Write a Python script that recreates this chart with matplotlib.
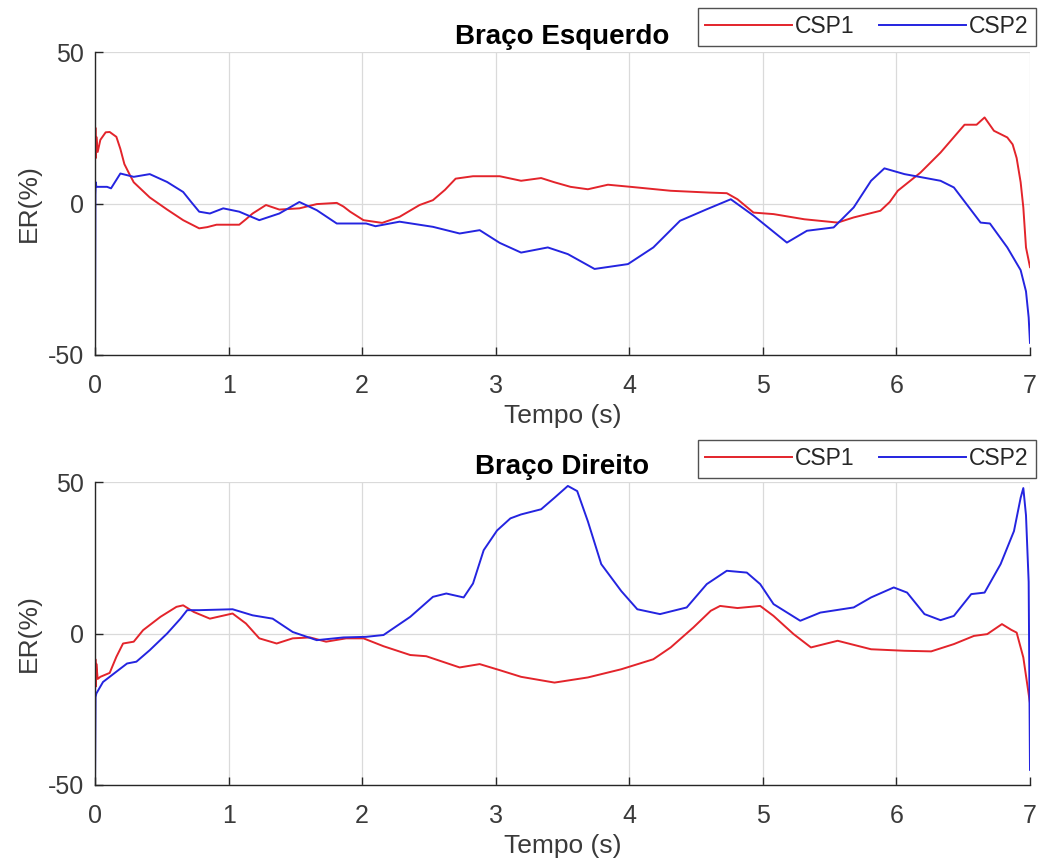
import matplotlib
matplotlib.use("Agg")
import matplotlib.pyplot as plt

plt.rcParams['font.family'] = ['Liberation Sans', 'DejaVu Sans']
plt.rcParams['axes.unicode_minus'] = False

# ---- Braço Esquerdo ----
left_t_csp1 = [0.0, 0.003, 0.006, 0.01, 0.02, 0.04, 0.08, 0.11, 0.16, 0.19, 0.22, 0.26, 0.29, 0.35,
               0.41, 0.54, 0.66, 0.78, 0.84, 0.91, 1.08, 1.13, 1.18, 1.28, 1.38, 1.53, 1.66,
               1.81, 1.86, 1.91, 2.01, 2.15, 2.28, 2.43, 2.53, 2.62, 2.70, 2.83, 3.03,
               3.19, 3.34, 3.44, 3.56, 3.69, 3.84, 4.01, 4.31, 4.60, 4.73, 4.81, 4.93,
               5.08, 5.31, 5.56, 5.68, 5.88, 5.95, 6.01, 6.18, 6.33, 6.51, 6.60, 6.66,
               6.73, 6.83, 6.87, 6.90, 6.93, 6.95, 6.97, 7.0]
left_csp1 = [14, 25, 15, 22, 17, 21, 23.5, 23.6, 22, 18, 13, 9.5, 7, 4.5,
             2, -2, -5.5, -8.2, -7.8, -7, -7, -5.2, -3.3, -0.5, -2, -1.6, -0.2,
             0.2, -1, -2.7, -5.5, -6.4, -4.4, -0.5, 1.1, 4.5, 8.2, 9, 9,
             7.5, 8.4, 7, 5.5, 4.7, 6.2, 5.5, 4.2, 3.6, 3.4, 1.4, -3,
             -3.5, -5.2, -6.3, -4.6, -2.4, 0.5, 4.2, 10.2, 16.8, 26, 26, 28.4,
             24, 21.8, 19.5, 15, 7, -1.3, -14.5, -21]

left_t_csp2 = [0.0, 0.003, 0.006, 0.01, 0.09, 0.12, 0.19, 0.29, 0.41, 0.54, 0.66, 0.72, 0.78,
               0.86, 0.96, 1.08, 1.23, 1.38, 1.53, 1.66, 1.81, 2.03, 2.10, 2.28, 2.53,
               2.73, 2.88, 3.03, 3.19, 3.39, 3.54, 3.74, 3.99, 4.18, 4.38, 4.58, 4.76,
               4.93, 5.18, 5.33, 5.53, 5.68, 5.81, 5.91, 6.06, 6.33, 6.43, 6.63, 6.70,
               6.83, 6.93, 6.97, 6.99, 7.0]
left_csp2 = [-50, 3, 7, 5.5, 5.5, 5, 9.9, 8.8, 9.7, 7.1, 3.8, 0.5, -2.7,
             -3.3, -1.6, -2.7, -5.5, -3.3, 0.5, -2.2, -6.6, -6.6, -7.5, -6, -7.7,
             -9.9, -8.8, -13, -16.2, -14.5, -16.7, -21.6, -20, -14.5, -5.7, -1.9, 1.4,
             -4, -12.9, -9, -7.9, -1.3, 7.5, 11.6, 9.7, 7.5, 5.3, -6.3, -6.6,
             -14.5, -22, -29, -37.6, -46]

# ---- Braço Direito ----
right_t_csp1 = [0.0, 0.003, 0.006, 0.01, 0.02, 0.04, 0.11, 0.16, 0.21, 0.29, 0.36, 0.49, 0.61,
                0.66, 0.74, 0.86, 1.03, 1.13, 1.23, 1.36, 1.48, 1.61, 1.73, 1.88, 2.01,
                2.16, 2.36, 2.48, 2.73, 2.88, 3.03, 3.19, 3.44, 3.69, 3.94, 4.18, 4.31,
                4.48, 4.61, 4.68, 4.81, 4.98, 5.08, 5.23, 5.36, 5.56, 5.81, 6.06, 6.26,
                6.43, 6.58, 6.68, 6.79, 6.86, 6.90, 6.95, 7.0]
right_csp1 = [-15, -8.5, -17.5, -10, -15, -14.3, -13, -7.7, -3.3, -2.7, 1.1, 5.5, 8.8,
              9.3, 7.1, 4.9, 6.6, 3.3, -1.6, -3.3, -1.6, -1.3, -2.7, -1.6, -1.6,
              -4.2, -7.1, -7.5, -11.2, -10.1, -12.1, -14.3, -16.2, -14.5, -11.8, -8.5, -4.6,
              2, 7.5, 9.1, 8.4, 9.1, 5.8, -0.2, -4.6, -2.4, -5.2, -5.7, -5.9,
              -3.5, -0.8, -0.2, 3.1, 1.2, 0.3, -7.9, -23]

right_t_csp2 = [0.0, 0.004, 0.01, 0.06, 0.16, 0.24, 0.31, 0.41, 0.54, 0.64, 0.69, 0.78, 1.03,
                1.18, 1.33, 1.48, 1.66, 1.86, 2.03, 2.16, 2.36, 2.53, 2.63, 2.76, 2.83,
                2.91, 3.01, 3.11, 3.19, 3.34, 3.44, 3.54, 3.61, 3.69, 3.79, 3.94, 4.06,
                4.23, 4.43, 4.58, 4.73, 4.88, 4.98, 5.08, 5.28, 5.43, 5.68, 5.81, 5.98,
                6.08, 6.21, 6.33, 6.43, 6.56, 6.66, 6.78, 6.88, 6.93, 6.95, 6.97, 6.99, 7.0]
right_csp2 = [-50, -21, -19.8, -16, -12.6, -9.9, -9.3, -5.5, 0, 4.9, 7.7, 7.7, 8,
              6, 4.9, 0.5, -2.2, -1.3, -1.1, -0.5, 5.5, 12.1, 13.2, 11.9, 16.5,
              27.5, 34, 38, 39.3, 41, 44.8, 48.7, 47, 37, 22.9, 14, 8,
              6.4, 8.6, 16.3, 20.7, 20.1, 16.3, 9.7, 4.2, 6.9, 8.6, 11.9, 15.2,
              13.5, 6.4, 4.4, 5.8, 13, 13.5, 22.9, 33.8, 44.8, 48, 39, 17, -45]

panel_titles = ['Braço Esquerdo', 'Braço Direito']
series_names = ['CSP1', 'CSP2']
x_ticks = [0, 1, 2, 3, 4, 5, 6, 7]
y_ticks = [-50, 0, 50]

RED = '#e3242b'
BLUE = '#2424e0'
DARK = '#262626'
TICK_GRAY = '#3a3a3a'

fig = plt.figure(figsize=(10.43, 8.65), dpi=100)
ax_top = fig.add_axes([95 / 1043, 1 - 355 / 865, 935 / 1043, 303 / 865])
ax_bot = fig.add_axes([95 / 1043, 1 - 785 / 865, 935 / 1043, 303 / 865])

panels = [
    (ax_top, (left_t_csp1, left_csp1), (left_t_csp2, left_csp2), 1.02),
    (ax_bot, (right_t_csp1, right_csp1), (right_t_csp2, right_csp2), 1.013),
]

for i, (ax, s1, s2, leg_y) in enumerate(panels):
    ax.plot(s1[0], s1[1], color=RED, lw=1.4, label=series_names[0])
    ax.plot(s2[0], s2[1], color=BLUE, lw=1.4, label=series_names[1])
    ax.set_xlim(0, 7)
    ax.set_ylim(-50, 50)
    ax.set_xticks(x_ticks)
    ax.set_yticks(y_ticks)
    ax.grid(True, color='#dadada', lw=0.9)
    ax.set_axisbelow(True)
    for side in ('top', 'right'):
        ax.spines[side].set_visible(False)
    for side in ('left', 'bottom'):
        ax.spines[side].set_color(DARK)
        ax.spines[side].set_linewidth(1.0)
    ax.tick_params(direction='in', length=6, width=1.0, colors=DARK,
                   labelcolor=TICK_GRAY, labelsize=18)
    ax.tick_params(axis='x', pad=14)
    ax.tick_params(axis='y', pad=8)
    ax.set_xlabel('Tempo (s)', fontsize=19, color=TICK_GRAY, labelpad=4)
    ax.set_ylabel('ER(%)', fontsize=19, color=TICK_GRAY, labelpad=5)
    ax.set_title(panel_titles[i], fontsize=20, fontweight='bold', color='black', pad=6)
    leg = ax.legend(loc='lower right', bbox_to_anchor=(1.006, leg_y), ncol=2,
                    frameon=True, fancybox=False, borderaxespad=0,
                    fontsize=16.5, handlelength=3.8, handletextpad=0.12,
                    columnspacing=1.05, borderpad=0.33)
    leg.get_frame().set_edgecolor(DARK)
    leg.get_frame().set_linewidth(1.0)
    for t in leg.get_texts():
        t.set_color(DARK)

fig.savefig('out.png', dpi=100)
